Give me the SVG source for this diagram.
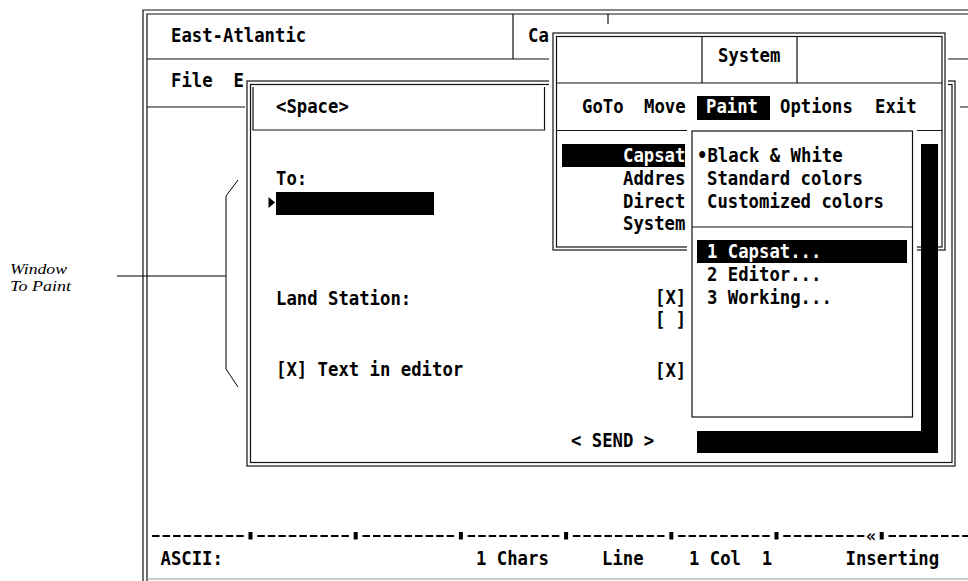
<svg xmlns="http://www.w3.org/2000/svg" width="968" height="581" viewBox="0 0 968 581">
  <style>
    .t { font-family: "DejaVu Sans Mono", "Liberation Mono", monospace; font-weight: bold; font-size: 20px; fill: #000; }
    .w { fill: #fff; }
    .ln { stroke: #111; stroke-width: 1.2; fill: none; }
    .bg { fill: #fff; stroke: none; }
    .hl { fill: #000; }
    .mark { font-family: "DejaVu Sans Mono", monospace; font-weight: bold; font-size: 17px; fill: #000; }
    .note { font-family: "Liberation Serif", "Times New Roman", serif; font-style: italic; font-size: 15px; fill: #000; }
  </style>

  <rect x="0" y="0" width="968" height="581" fill="#fff"/>

  <!-- Main editor window -->
  <g id="main-window">
    <path class="ln" d="M143,581 V10 H968 M147,581 V14 H968"/>
    <path class="ln" d="M147,59 H968 M513,14 V59 M608,14 V24 M147,107 H968"/>
    <path d="M147,579 H968" stroke="#999" stroke-width="1.2"/>
    <text class="t" x="171" y="42" textLength="135.2" lengthAdjust="spacingAndGlyphs">East-Atlantic</text>
    <text class="t" x="528" y="42" textLength="20.8" lengthAdjust="spacingAndGlyphs">Ca</text>
    <text class="t" x="171" y="87" textLength="41.6" lengthAdjust="spacingAndGlyphs">File</text>
    <text class="t" x="233.5" y="87" textLength="10.4" lengthAdjust="spacingAndGlyphs">E</text>
  </g>

  <!-- Message dialog -->
  <g id="space-dialog">
    <rect class="bg" x="245" y="77" width="715" height="393"/>
    <rect class="ln" x="247" y="81" width="708" height="385"/>
    <rect class="ln" x="250.5" y="84.5" width="701.5" height="378"/>
    <path class="ln" d="M253,87 V130 H544.5 V87"/>
    <text class="t" x="276" y="113" textLength="72.8" lengthAdjust="spacingAndGlyphs">&lt;Space&gt;</text>
    <text class="t" x="276" y="185" textLength="31.2" lengthAdjust="spacingAndGlyphs">To:</text>
    <polygon points="268.5,197 275,202.5 268.5,208" fill="#000"/>
    <rect class="hl" x="276" y="192" width="158" height="23"/>
    <text class="t" x="276" y="305" textLength="135.2" lengthAdjust="spacingAndGlyphs">Land Station:</text>
    <text class="t" x="276" y="376" textLength="187.2" lengthAdjust="spacingAndGlyphs">[X] Text in editor</text>
    <text class="t" x="655" y="304" textLength="31.2" lengthAdjust="spacingAndGlyphs">[X]</text>
    <text class="t" x="655" y="326" textLength="31.2" lengthAdjust="spacingAndGlyphs">[ ]</text>
    <text class="t" x="655" y="377" textLength="31.2" lengthAdjust="spacingAndGlyphs">[X]</text>
    <text class="t" x="571" y="447" textLength="83.2" lengthAdjust="spacingAndGlyphs">&lt; SEND &gt;</text>
  </g>

  <!-- System menu window -->
  <g id="system-menu">
    <rect class="bg" x="549" y="24" width="399" height="229"/>
    <rect class="ln" x="553" y="33" width="392" height="217"/>
    <rect class="ln" x="556.5" y="36.5" width="385.5" height="210.5"/>
    <path class="ln" d="M556.5,83 H942 M702,36.5 V83 M797,36.5 V83 M556.5,130.5 H942"/>
    <text class="t" x="718" y="62" textLength="62.4" lengthAdjust="spacingAndGlyphs">System</text>
    <text class="t" x="582" y="113" textLength="41.6" lengthAdjust="spacingAndGlyphs">GoTo</text>
    <text class="t" x="644" y="113" textLength="41.6" lengthAdjust="spacingAndGlyphs">Move</text>
    <rect class="hl" x="697" y="96" width="73" height="24"/>
    <text class="t w" x="706" y="113" textLength="52" lengthAdjust="spacingAndGlyphs">Paint</text>
    <text class="t" x="780" y="113" textLength="72.8" lengthAdjust="spacingAndGlyphs">Options</text>
    <text class="t" x="875" y="113" textLength="41.6" lengthAdjust="spacingAndGlyphs">Exit</text>
    <rect class="hl" x="562" y="144" width="123" height="23"/>
    <text class="t w" x="623" y="162" textLength="62.4" lengthAdjust="spacingAndGlyphs">Capsat</text>
    <text class="t" x="623" y="185" textLength="62.4" lengthAdjust="spacingAndGlyphs">Addres</text>
    <text class="t" x="623" y="207.5" textLength="62.4" lengthAdjust="spacingAndGlyphs">Direct</text>
    <text class="t" x="623" y="229.5" textLength="62.4" lengthAdjust="spacingAndGlyphs">System</text>
  </g>

  <!-- Drop shadow of the Paint submenu -->
  <g id="paint-shadow">
    <polygon class="hl" points="921,144 938,144 938,453 697,453 697,431 921,431"/>
  </g>

  <!-- Paint submenu -->
  <g id="paint-menu">
    <rect class="bg" x="687" y="126" width="230" height="295"/>
    <rect class="ln" x="692" y="131" width="220.5" height="286"/>
    <path class="ln" d="M692,227 H912.5"/>
    <text class="t" x="697" y="162" textLength="145.6" lengthAdjust="spacingAndGlyphs">•Black &amp; White</text>
    <text class="t" x="707" y="185" textLength="156" lengthAdjust="spacingAndGlyphs">Standard colors</text>
    <text class="t" x="707" y="207.5" textLength="176.8" lengthAdjust="spacingAndGlyphs">Customized colors</text>
    <rect class="hl" x="697" y="240" width="210" height="23"/>
    <text class="t w" x="707" y="257.5" textLength="114.4" lengthAdjust="spacingAndGlyphs">1 Capsat...</text>
    <text class="t" x="707" y="280.5" textLength="114.4" lengthAdjust="spacingAndGlyphs">2 Editor...</text>
    <text class="t" x="707" y="303.5" textLength="124.8" lengthAdjust="spacingAndGlyphs">3 Working...</text>
  </g>

  <!-- Ruler and status line -->
  <g id="status-bar">
    <path d="M152.07,536 H968" stroke="#000" stroke-width="2" stroke-dasharray="7.5 3.02"/>
    <g fill="#fff">
      <rect x="245.2" y="530" width="10.6" height="12"/>
      <rect x="350.4" y="530" width="10.6" height="12"/>
      <rect x="455.6" y="530" width="10.6" height="12"/>
      <rect x="560.8" y="530" width="10.6" height="12"/>
      <rect x="666" y="530" width="10.6" height="12"/>
      <rect x="771.2" y="530" width="10.6" height="12"/>
      <rect x="865.9" y="530" width="21.1" height="12"/>
    </g>
    <g fill="#000">
      <rect x="248.5" y="532" width="4" height="7.5"/>
      <rect x="353.7" y="532" width="4" height="7.5"/>
      <rect x="458.9" y="532" width="4" height="7.5"/>
      <rect x="564.1" y="532" width="4" height="7.5"/>
      <rect x="669.3" y="532" width="4" height="7.5"/>
      <rect x="774.5" y="532" width="4" height="7.5"/>
      <rect x="879.7" y="532" width="4" height="7.5"/>
    </g>
    <text class="mark" x="871.2" y="541.5" text-anchor="middle">«</text>
    <text class="t" x="160.5" y="565" textLength="62.4" lengthAdjust="spacingAndGlyphs">ASCII:</text>
    <text class="t" x="476" y="565" textLength="72.8" lengthAdjust="spacingAndGlyphs">1 Chars</text>
    <text class="t" x="602" y="565" textLength="41.6" lengthAdjust="spacingAndGlyphs">Line</text>
    <text class="t" x="689" y="565" textLength="52" lengthAdjust="spacingAndGlyphs">1 Col</text>
    <text class="t" x="761.8" y="565" textLength="10.4" lengthAdjust="spacingAndGlyphs">1</text>
    <text class="t" x="845.5" y="565" textLength="93.6" lengthAdjust="spacingAndGlyphs">Inserting</text>
  </g>

  <!-- Callout label with its bracket -->
  <g id="callout-label">
    <text class="note" x="10" y="274" textLength="57" lengthAdjust="spacingAndGlyphs">Window</text>
    <text class="note" x="10" y="291" textLength="61" lengthAdjust="spacingAndGlyphs">To Paint</text>
  </g>
  <g id="connectors">
    <path d="M117,276 H226 M238,180 L226,196 V369 L238,387" stroke="#000" stroke-width="1" fill="none"/>
  </g>
</svg>
